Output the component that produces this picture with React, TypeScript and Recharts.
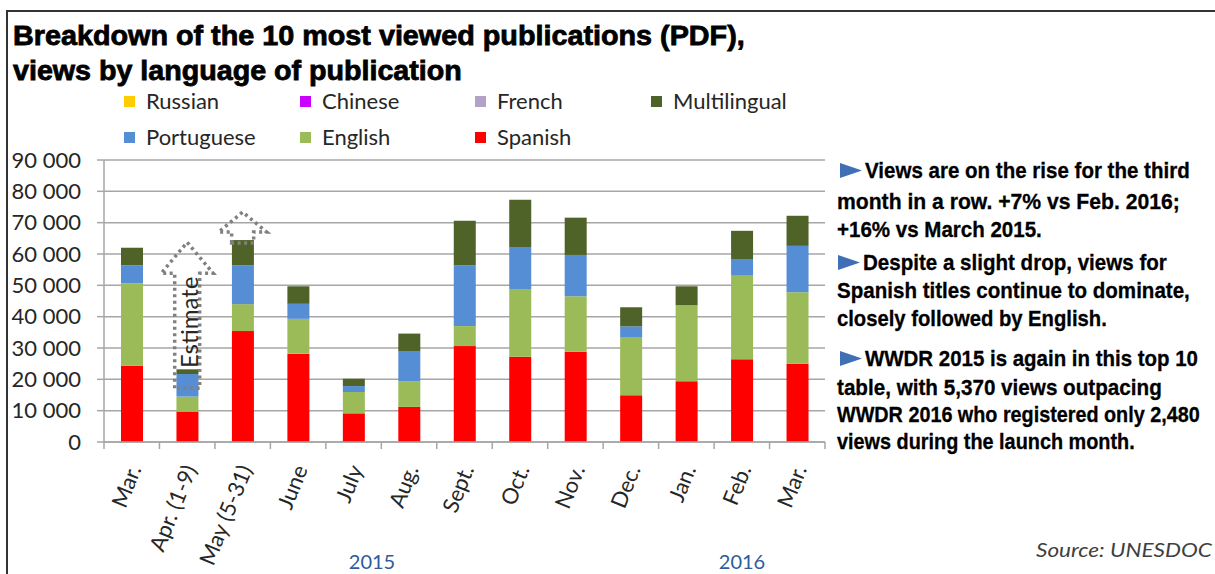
import React, { useLayoutEffect, useRef, useState } from 'react';
import { BarChart, Bar, XAxis, YAxis, CartesianGrid, Legend, ReferenceDot } from 'recharts';

// ---------- data ----------
const categories = ['Mar.', 'Apr. (1-9)', 'May (5-31)', 'June', 'July', 'Aug.', 'Sept.', 'Oct.', 'Nov.', 'Dec.', 'Jan.', 'Feb.', 'Mar.'];
const yearOf = ['2015', '2015', '2015', '2015', '2015', '2015', '2015', '2015', '2015', '2015', '2016', '2016', '2016'];
const spanish = [24300, 9700, 35400, 28200, 9150, 11200, 30600, 27200, 28800, 14900, 19400, 26400, 25000];
const english = [26300, 4800, 8600, 11100, 6800, 8200, 6400, 21600, 17700, 18600, 24200, 26700, 22800];
const portuguese = [5800, 7200, 12350, 4800, 1900, 9450, 19400, 13400, 13200, 3400, 0, 5300, 14800];
const multilingual = [5600, 1500, 8100, 5600, 2350, 5750, 14200, 15100, 11900, 6100, 6100, 9000, 9600];
const french = [0, 0, 0, 0, 0, 0, 0, 0, 0, 0, 0, 0, 0];
const chinese = [0, 0, 0, 0, 0, 0, 0, 0, 0, 0, 0, 0, 0];
const russian = [0, 0, 0, 0, 0, 0, 0, 0, 0, 0, 0, 0, 0];
const yTicks = [0, 10000, 20000, 30000, 40000, 50000, 60000, 70000, 80000, 90000];
const yearLabels = ['2015', '2016'];
const legendOrder = ['Russian', 'Chinese', 'French', 'Multilingual', 'Portuguese', 'English', 'Spanish'];

const seriesList = [
  { name: 'Spanish', values: spanish, color: '#FF0000' },
  { name: 'English', values: english, color: '#9BBB59' },
  { name: 'Portuguese', values: portuguese, color: '#558ED5' },
  { name: 'Multilingual', values: multilingual, color: '#4F6228' },
  { name: 'French', values: french, color: '#B3A2C7' },
  { name: 'Chinese', values: chinese, color: '#CC00FF' },
  { name: 'Russian', values: russian, color: '#FFCC00' },
];

const ids = categories.map((c, i) => `${c} ${yearOf[i]}`);
const data = ids.map((id, i) => {
  const row: any = { id, label: categories[i] };
  seriesList.forEach((s) => { row[s.name] = s.values[i]; });
  return row;
});
const totals = data.map((_, i) => spanish[i] + english[i] + portuguese[i] + multilingual[i] + french[i] + chinese[i] + russian[i]);

// ---------- layout ----------
const W = 1215;
const H = 574;
const MARGIN = { top: 160, right: 390, bottom: 0, left: 0 };
const Y_W = 104;
const X_H = 132;
const PLOT_W = W - MARGIN.left - MARGIN.right - Y_W;
const BAND = PLOT_W / categories.length;
const GRID = '#a6a6a6';
const TXT = '#262626';
const FONT = 'Lato, "Open Sans", sans-serif';
const BOLD_FONT = '"Liberation Sans", Arial, sans-serif';

const labelById: Record<string, string> = {};
ids.forEach((id, i) => { labelById[id] = categories[i]; });

// text squeezed horizontally to a target width via a transform
const FitText = (props: any) => {
  const { x, y, w, children, ...rest } = props;
  const ref = useRef<SVGTextElement>(null);
  const [sx, setSx] = useState(1);
  useLayoutEffect(() => {
    if (ref.current) {
      const n = ref.current.getComputedTextLength();
      if (n > 0) setSx(w / n);
    }
  }, [w]);
  return (
    <text ref={ref} x={0} y={0} transform={`translate(${x},${y}) scale(${sx},1)`} {...rest}>
      {children}
    </text>
  );
};

const XTick = (props: any) => {
  const { x, y, payload, index } = props;
  const label = labelById[payload.value] ?? payload.value;
  const tx = x + 10;
  const ty = y + 27;
  const last = index === categories.length - 1;
  return (
    <g>
      <line x1={x - BAND / 2} x2={x - BAND / 2} y1={y} y2={y + 7} stroke={GRID} strokeWidth={1.5} />
      {last && <line x1={x + BAND / 2} x2={x + BAND / 2} y1={y} y2={y + 7} stroke={GRID} strokeWidth={1.5} />}
      <text x={tx} y={ty} transform={`rotate(-68, ${tx}, ${ty})`} textAnchor="end" fontSize={22} fill={TXT} fontFamily={FONT}>
        {label}
      </text>
    </g>
  );
};

const fmtY = (v: number) => (v === 0 ? '0' : `${Math.round(v / 1000)} 000`);

const LegendContent = (props: any) => {
  const payload = props.payload || [];
  const colorOf: Record<string, string> = {};
  seriesList.forEach((s) => { colorOf[s.name] = s.color; });
  const cols = [124, 300, 475, 651];
  const rows = [101, 137];
  return (
    <div style={{ position: 'relative', width: W, height: 160 }}>
      {legendOrder.map((name, i) => {
        const p = payload.find((e: any) => e.value === name);
        const color = (p && p.color) || colorOf[name];
        const col = i < 4 ? i : i - 4;
        const row = i < 4 ? 0 : 1;
        return (
          <div key={name} style={{ position: 'absolute', left: cols[col], top: rows[row] - 13, height: 26, display: 'flex', alignItems: 'center', whiteSpace: 'nowrap' }}>
            <span style={{ width: 11, height: 11, background: color, display: 'inline-block', marginRight: 11 }} />
            <span style={{ fontSize: 22, color: TXT, fontFamily: FONT, lineHeight: '26px' }}>{name}</span>
          </div>
        );
      })}
    </div>
  );
};

const DOT = { fill: 'none', stroke: '#808080', strokeWidth: 3.5, strokeDasharray: '3 3.5' };

const EstimateArrow = (props: any) => {
  const { cx, cy } = props;
  if (cx == null || cy == null) return null;
  const d = `M ${cx - 12.5} ${cy + 19} L ${cx - 12.5} ${cy - 96} L ${cx - 26} ${cy - 96} L ${cx} ${cy - 127} L ${cx + 26} ${cy - 96} L ${cx + 12.5} ${cy - 96} L ${cx + 12.5} ${cy + 19} Z`;
  const tx = cx + 10.5;
  const ty = cy - 47;
  return (
    <g>
      <path d={d} {...DOT} />
      <text x={tx} y={ty} transform={`rotate(-90, ${tx}, ${ty})`} textAnchor="middle" fontSize={24} fill={TXT} fontFamily={FONT}>Estimate</text>
    </g>
  );
};

const SmallArrow = (props: any) => {
  const { cx, cy } = props;
  if (cx == null || cy == null) return null;
  const d = `M ${cx - 11} ${cy + 3} L ${cx - 11} ${cy - 8} L ${cx - 24} ${cy - 8} L ${cx} ${cy - 28} L ${cx + 24} ${cy - 8} L ${cx + 11} ${cy - 8} L ${cx + 11} ${cy + 3} Z`;
  return <path d={d} {...DOT} />;
};

const rightLines = [
  { t: 'Views are on the rise for the third', x: 865, y: 178, w: 325, tri: true },
  { t: 'month in a row. +7% vs Feb. 2016;', x: 837, y: 209, w: 343 },
  { t: '+16% vs March 2015.', x: 837, y: 237, w: 205 },
  { t: 'Despite a slight drop, views for', x: 863, y: 270, w: 304, tri: true },
  { t: 'Spanish titles continue to dominate,', x: 837, y: 298, w: 353 },
  { t: 'closely followed by English.', x: 837, y: 326, w: 270 },
  { t: 'WWDR 2015 is again in this top 10', x: 865, y: 366, w: 333, tri: true },
  { t: 'table, with 5,370 views outpacing', x: 837, y: 395, w: 325 },
  { t: 'WWDR 2016 who registered only 2,480', x: 837, y: 422, w: 363 },
  { t: 'views during the launch month.', x: 837, y: 449, w: 298 },
];

export default function App() {
  return (
    <div style={{ position: 'absolute', left: 0, top: 0, width: W, height: H, overflow: 'hidden', background: '#fff', fontFamily: FONT }}>
      <BarChart width={W} height={H} data={data} margin={MARGIN} barSize={22}>
        <CartesianGrid vertical={false} stroke={GRID} strokeWidth={1.5} />
        <XAxis
          dataKey="id"
          interval={0}
          height={X_H}
          tickSize={0}
          tickMargin={0}
          tickLine={false}
          axisLine={{ stroke: GRID, strokeWidth: 1.5 }}
          tick={<XTick />}
        />
        <YAxis
          width={Y_W}
          domain={[0, 90000]}
          ticks={yTicks}
          interval={0}
          tickFormatter={fmtY}
          tickSize={7}
          tickMargin={16}
          axisLine={{ stroke: GRID, strokeWidth: 1.5 }}
          tickLine={{ stroke: GRID, strokeWidth: 1.5 }}
          tick={{ fontSize: 22, fill: TXT, fontFamily: FONT }}
        />
        <Legend
          layout="vertical"
          align="center"
          verticalAlign="middle"
          content={<LegendContent />}
          wrapperStyle={{ position: 'absolute', left: 0, top: 0, width: W, height: 160 }}
        />
        {seriesList.map((s) => (
          <Bar key={s.name} dataKey={s.name} name={s.name} stackId="a" fill={s.color} isAnimationActive={false} />
        ))}
        <ReferenceDot x={ids[1]} y={totals[1]} r={0} shape={<EstimateArrow />} ifOverflow="visible" />
        <ReferenceDot x={ids[2]} y={totals[2]} r={0} shape={<SmallArrow />} ifOverflow="visible" />
      </BarChart>
      <svg width={W} height={H} style={{ position: 'absolute', left: 0, top: 0, pointerEvents: 'none' }}>
        <line x1={7} y1={11} x2={W} y2={11} stroke="#333" strokeWidth={2} />
        <line x1={7} y1={10} x2={7} y2={H} stroke="#333" strokeWidth={2} />
        <FitText x={13} y={45} w={732} fontSize={28} fontWeight="bold" fontFamily={BOLD_FONT} fill="#000" stroke="#000" strokeWidth={0.8}>
          Breakdown of the 10 most viewed publications (PDF),
        </FitText>
        <FitText x={13} y={80} w={449} fontSize={28} fontWeight="bold" fontFamily={BOLD_FONT} fill="#000" stroke="#000" strokeWidth={0.8}>
          views by language of publication
        </FitText>
        {rightLines.map((l, i) => (
          <g key={i}>
            {l.tri && <polygon points={`${l.x - 25},${l.y - 15} ${l.x - 3},${l.y - 7.5} ${l.x - 25},${l.y}`} fill="#3F6FB5" />}
            <FitText x={l.x} y={l.y} w={l.w} fontSize={22} fontWeight="bold" fontFamily={BOLD_FONT} fill="#000" stroke="#000" strokeWidth={0.3}>
              {l.t}
            </FitText>
          </g>
        ))}
        <FitText x={1036} y={557} w={176} fontSize={20} fontStyle="italic" fontFamily={FONT} fill="#404040">
          Source: UNESDOC
        </FitText>
        <text x={372} y={569} fontSize={20} textAnchor="middle" fontFamily={FONT} fill="#2E5C99">{yearLabels[0]}</text>
        <text x={742} y={569} fontSize={20} textAnchor="middle" fontFamily={FONT} fill="#2E5C99">{yearLabels[1]}</text>
      </svg>
    </div>
  );
}
